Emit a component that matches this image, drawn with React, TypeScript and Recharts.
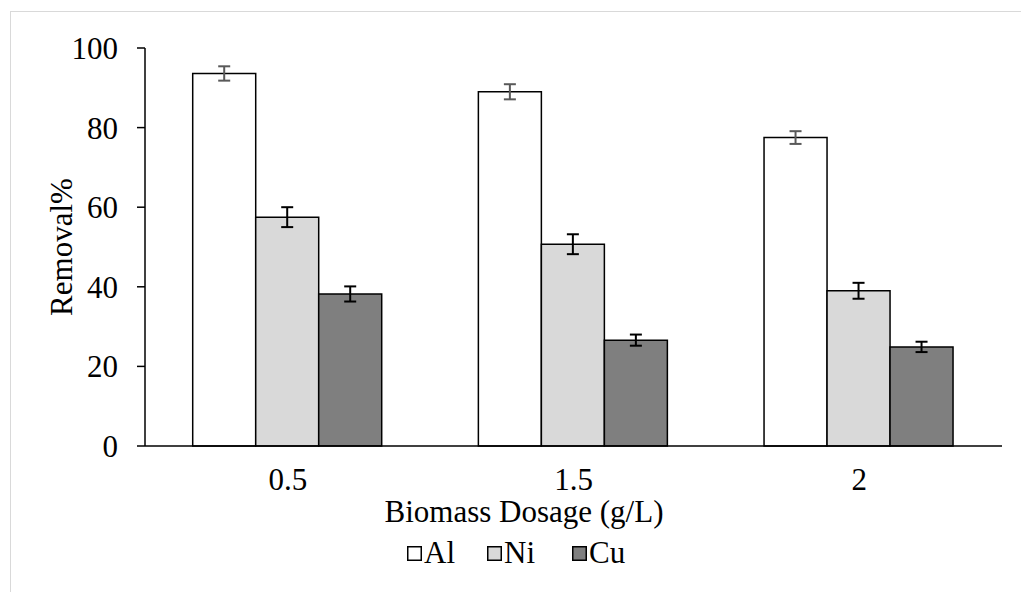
import React from 'react'
import { BarChart, Bar, XAxis, YAxis, ErrorBar } from 'recharts'

const dosages = ['0.5', '1.5', '2']
const alRemoval = [93.6, 89.0, 77.5]
const niRemoval = [57.5, 50.7, 39.0]
const cuRemoval = [38.2, 26.6, 24.9]
const alErr = [1.8, 1.9, 1.6]
const niErr = [2.5, 2.5, 2.0]
const cuErr = [1.9, 1.4, 1.3]
const yTicks = [0, 20, 40, 60, 80, 100]

const data = dosages.map((d, i) => ({
  dosage: d,
  Al: alRemoval[i],
  Ni: niRemoval[i],
  Cu: cuRemoval[i],
  alErr: alErr[i],
  niErr: niErr[i],
  cuErr: cuErr[i],
}))

const FONT = '"Liberation Serif", "Times New Roman", serif'
const FONT_SIZE = 31

const series = [
  { key: 'Al', fill: '#ffffff', err: 'alErr', errColor: '#595959', legendX: 407 },
  { key: 'Ni', fill: '#d9d9d9', err: 'niErr', errColor: '#000000', legendX: 487 },
  { key: 'Cu', fill: '#7f7f7f', err: 'cuErr', errColor: '#000000', legendX: 572 },
]

function ChartLegend() {
  return (
    <>
      {series.map((s) => (
        <div
          key={s.key}
          style={{
            position: 'absolute', left: s.legendX, top: 537, display: 'flex', alignItems: 'center',
            fontFamily: FONT, fontSize: FONT_SIZE, color: '#000', lineHeight: 1,
          }}
        >
          <svg width={15} height={15} style={{ marginRight: 2, marginTop: 2 }}>
            <rect x={0.75} y={0.75} width={13.5} height={13.5} fill={s.fill} stroke="#000" strokeWidth={1.5} />
          </svg>
          <span>{s.key}</span>
        </div>
      ))}
    </>
  )
}

export default function App() {
  return (
    <div style={{ position: 'relative', width: 1021, height: 592, overflow: 'hidden', background: '#fff' }}>
      <style>{'body{margin:0}'}</style>
      <div
        style={{
          position: 'absolute', left: 10, top: 11, width: 1100, height: 700,
          border: '1px solid #d9d9d9', boxSizing: 'border-box',
        }}
      />
      <BarChart
        width={1021}
        height={592}
        data={data}
        margin={{ top: 48, right: 19, bottom: 116, left: 0 }}
        barCategoryGap="16.7%"
        barGap={0}
        style={{ position: 'absolute', left: 0, top: 0 }}
      >
        <XAxis
          dataKey="dosage"
          height={30}
          tickLine={false}
          axisLine={{ stroke: '#000', strokeWidth: 1.5 }}
          tick={{ fill: '#000', fontSize: FONT_SIZE, fontFamily: FONT }}
          tickMargin={16}
        />
        <YAxis
          width={145}
          domain={[0, 100]}
          ticks={yTicks}
          tickSize={8}
          tickMargin={19}
          axisLine={{ stroke: '#000', strokeWidth: 1.5 }}
          tickLine={{ stroke: '#000', strokeWidth: 1.5 }}
          tick={{ fill: '#000', fontSize: FONT_SIZE, fontFamily: FONT }}
        />
        {series.map((s) => (
          <Bar key={s.key} dataKey={s.key} fill={s.fill} stroke="#000" strokeWidth={1.5} isAnimationActive={false}>
            <ErrorBar dataKey={s.err} width={6} stroke={s.errColor} strokeWidth={2} isAnimationActive={false} />
          </Bar>
        ))}
      </BarChart>
      <div
        style={{
          position: 'absolute', left: 524, top: 496, transform: 'translateX(-50%)',
          fontFamily: FONT, fontSize: FONT_SIZE, whiteSpace: 'nowrap', color: '#000', lineHeight: 1,
        }}
      >
        Biomass Dosage (g/L)
      </div>
      <div
        style={{
          position: 'absolute', left: 61, top: 247, transform: 'translate(-50%, -50%) rotate(-90deg)',
          fontFamily: FONT, fontSize: FONT_SIZE, whiteSpace: 'nowrap', color: '#000', lineHeight: 1,
        }}
      >
        Removal%
      </div>
      <ChartLegend />
    </div>
  )
}
